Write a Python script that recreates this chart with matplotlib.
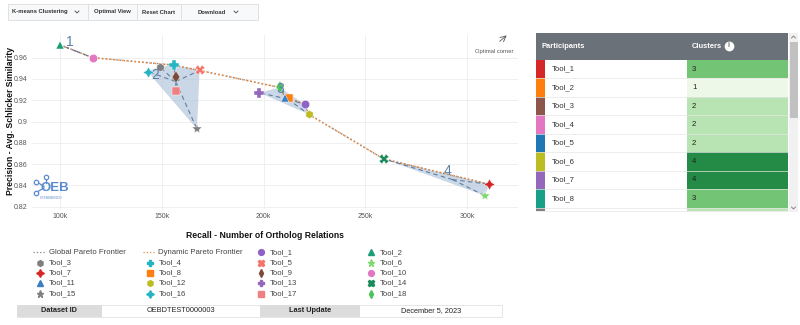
import matplotlib
matplotlib.use('Agg')
import matplotlib.pyplot as plt
from matplotlib.patches import Rectangle, Polygon
from matplotlib.lines import Line2D
from matplotlib.ticker import FuncFormatter
import numpy as np

plt.rcParams['font.family'] = ['Liberation Sans', 'DejaVu Sans']

# ---------------- data ----------------
tools = [f"Tool_{i}" for i in range(1, 19)]
recall = [220400, 100000, 149000, 156000, 168600, 308700, 311000, 212400, 157000,
          116000, 210800, 222200, 198000, 259000, 167300, 143000, 157000, 208000]
precision = [0.916, 0.972, 0.9515, 0.953, 0.948, 0.8304, 0.841, 0.922, 0.9416,
             0.960, 0.9225, 0.9069, 0.927, 0.8649, 0.893, 0.947, 0.929, 0.932]
cluster = [3, 1, 2, 2, 2, 4, 4, 3, 2, 1, 3, 3, 3, 4, 2, 2, 2, 3]

x_ticks = [100000, 150000, 200000, 250000, 300000]
y_ticks = [0.82, 0.84, 0.86, 0.88, 0.90, 0.92, 0.94, 0.96]
y_tick_labels = ["0.82", "0.84", "0.86", "0.88", "0.9", "0.92", "0.94", "0.96"]

table_rows = tools[:9]
dataset_id = "OEBDTEST0000003"
last_update = "December 5, 2023"

# ---------------- styles ----------------
colors = ['#8f63c6', '#1c9e78', '#7f7f7f', '#25b4c4', '#f4736b', '#7fd96c',
          '#d62728', '#ff7f0e', '#7b4a3a', '#e377c2', '#3b7fc4', '#bcbd22',
          '#9467bd', '#1b8a5a', '#7f7f7f', '#25b4c4', '#f08080', '#4bc25a']
star4 = (4, 1, 0)
markers = ['o', '^', 'h', 'P', 'X', '*', star4, 's', 'd', 'o', '^', 'h',
           'P', 'X', '*', star4, 's', 'd']
msizes = [6, 5.5, 6, 7, 6.5, 7.5, 8, 5.5, 6, 6, 5.5, 6, 7, 6.5, 7.5, 8, 5.5, 6]
table_colors = ['#d62728', '#ff7f0e', '#8c564b', '#e377c2', '#1f77b4', '#bcbd22',
                '#9467bd', '#17a085', '#7f7f7f']
cluster_cell = {1: '#edf8e9', 2: '#b8e3b2', 3: '#74c476', 4: '#238b45'}
label_offsets = {1: (-4.5, 6.5), 2: (-15, 4.8), 3: (-5.5, 7.0), 4: (-3.7, 6.3)}

W, H = 800, 325
fig = plt.figure(figsize=(W / 100, H / 100), dpi=100)


def fpx(x, y):
    return (x / W, 1 - y / H)


def rect(x0, y0, x1, y1, **kw):
    fig.add_artist(Rectangle(fpx(x0, y1), (x1 - x0) / W, (y1 - y0) / H,
                             transform=fig.transFigure, **kw))


def ftext(x, y, s, **kw):
    fig.text(x / W, 1 - y / H, s, **kw)


def fline(xs, ys, **kw):
    fig.add_artist(Line2D([x / W for x in xs], [1 - y / H for y in ys],
                          transform=fig.transFigure, **kw))


def fdot(x, y, **kw):
    fig.add_artist(Line2D([x / W], [1 - y / H], ls='none',
                          transform=fig.transFigure, **kw))


# ---------------- main axes ----------------
ax_l, ax_r, ax_t, ax_b = 32, 518, 35, 209
ax = fig.add_axes([ax_l / W, 1 - ax_b / H, (ax_r - ax_l) / W, (ax_b - ax_t) / H])
ax.set_xlim(86240, 325060)
ax.set_ylim(0.8178, 0.9813)
for s in ax.spines.values():
    s.set_visible(False)
ax.set_xticks(x_ticks)
ax.xaxis.set_major_formatter(FuncFormatter(lambda v, p: f"{v/1000:.0f}k"))
ax.set_yticks(y_ticks)
ax.set_yticklabels(y_tick_labels)
ax.tick_params(length=0, labelsize=5, labelcolor='#555555', pad=3)
ax.grid(True, color='#efefef', lw=0.7)
ax.set_axisbelow(True)

rx = np.array(recall, dtype=float)
py = np.array(precision)
cl = np.array(cluster)

# Pareto frontier (maximise both)
order = np.argsort(-rx)
best = -np.inf
front = []
for i in order:
    if py[i] > best:
        front.append(i)
        best = py[i]
front = sorted(front, key=lambda i: rx[i])
ax.plot(rx[front], py[front], ls=':', color='#8a8a8a', lw=1.0, zorder=2)
ax.plot(rx[front], py[front], ls=':', color='#f08a3c', lw=1.1, zorder=3)


def hull(pts):
    pts = sorted(map(tuple, pts))
    if len(pts) < 3:
        return pts

    def cross(o, a, b):
        return (a[0] - o[0]) * (b[1] - o[1]) - (a[1] - o[1]) * (b[0] - o[0])
    lower, upper = [], []
    for p in pts:
        while len(lower) >= 2 and cross(lower[-2], lower[-1], p) <= 0:
            lower.pop()
        lower.append(p)
    for p in reversed(pts):
        while len(upper) >= 2 and cross(upper[-2], upper[-1], p) <= 0:
            upper.pop()
        upper.append(p)
    return lower[:-1] + upper[:-1]


for c in sorted(set(cluster)):
    idx = np.where(cl == c)[0]
    pts = np.column_stack([rx[idx], py[idx]])
    h = hull(pts)
    if len(h) >= 3:
        ax.add_patch(Polygon(h, closed=True, facecolor='#a9bfd8', alpha=0.62,
                             edgecolor='none', zorder=1))
    cx, cy = rx[idx].mean(), py[idx].mean()
    for i in idx:
        ax.plot([cx, rx[i]], [cy, py[i]], ls=(0, (4, 3)), color='#4f6f96',
                lw=0.8, alpha=0.85, zorder=4)
    ax.annotate(str(c), (cx, cy), xytext=label_offsets[c], textcoords='offset points',
                ha='center', va='center', fontsize=10, color='#5b80aa', zorder=6)

for i in range(len(tools)):
    ax.plot(rx[i], py[i], marker=markers[i], color=colors[i], ms=msizes[i],
            mec='white', mew=0.3, ls='none', zorder=5)

# optimal corner
ax.annotate('', xy=(0.981, 1.008), xytext=(0.958, 0.953), xycoords='axes fraction',
            arrowprops=dict(arrowstyle='->', color='#555555', lw=0.6))
ax.text(0.952, 0.905, 'Optimal corner', transform=ax.transAxes, fontsize=4.2,
        color='#555555', ha='center', va='center')

# axis titles
ftext(265, 235, 'Recall - Number of Ortholog Relations', ha='center', va='center',
      fontsize=6.2, fontweight='bold', color='#111111')
ftext(11, 121, 'Precision - Avg. Schlicker Similarity', ha='center', va='center',
      rotation=90, fontsize=6.2, fontweight='bold', color='#111111')

# OEB logo
logo = '#5b8bd0'
fline([37, 44], [182, 186.5], color=logo, lw=0.9)
fline([37, 44], [192, 188], color=logo, lw=0.9)
fline([46, 46], [178, 183], color=logo, lw=0.9)
for (x, y) in [(36, 181.5), (46, 177.5), (36, 192.5)]:
    fdot(x, y, marker='o', ms=3.2, mfc='white', mec=logo, mew=0.9)
ftext(55, 188, 'OEB', ha='center', va='center', fontsize=9.5, fontweight='bold',
      color=logo)
ftext(51, 198, 'OPENEBENCH', ha='center', va='center', fontsize=2.3, color=logo)

# ---------------- top buttons ----------------
rect(8, 4, 258, 20, facecolor='#f8f9fa', edgecolor='#dcdcdc', lw=0.6)
for x in [88, 137, 181]:
    fline([x, x], [5, 19], color='#dcdcdc', lw=0.6)
bkw = dict(va='center', fontsize=4.2, fontweight='bold', color='#333333')
ftext(12, 12, 'K-means Clustering', ha='left', **bkw)
ftext(112, 12, 'Optimal View', ha='center', **bkw)
ftext(159, 12, 'Reset Chart', ha='center', **bkw)
ftext(212, 12, 'Download', ha='center', **bkw)
for x in [77, 236]:
    fline([x - 2, x, x + 2], [11, 13, 11], color='#444444', lw=0.6)

# ---------------- legend (manual, row-major) ----------------
entries = [('line', 'Global Pareto Frontier', '#8a8a8a'),
           ('line', 'Dynamic Pareto Frontier', '#f08a3c')]
entries += [('mk', tools[i], i) for i in range(len(tools))]
col_x = [40, 149.5, 261, 371]
row_y = [252.3, 262.6, 272.9, 283.2, 293.5]
for k, e in enumerate(entries):
    c, r = k % 4, k // 4
    x, y = col_x[c], row_y[r]
    if e[0] == 'line':
        fline([x - 7, x + 6], [y, y], ls=':', color=e[2], lw=0.9)
    else:
        i = e[2]
        fdot(x, y, marker=markers[i], color=colors[i], ms=msizes[i] * 0.7)
    ftext(x + 9, y, e[1], ha='left', va='center', fontsize=5.6, color='#444444')

# ---------------- bottom info bar ----------------
rect(17, 305, 502, 317, facecolor='white', edgecolor='#e2e2e2', lw=0.6)
rect(17, 305, 102, 317, facecolor='#dcdcdc', edgecolor='none')
rect(260, 305, 360, 317, facecolor='#dcdcdc', edgecolor='none')
ftext(59, 311, 'Dataset ID', ha='center', va='center', fontsize=5.3,
      fontweight='bold', color='#222222')
ftext(181, 311, dataset_id, ha='center', va='center', fontsize=5.3, color='#222222')
ftext(310, 311, 'Last Update', ha='center', va='center', fontsize=5.3,
      fontweight='bold', color='#222222')
ftext(431, 311, last_update, ha='center', va='center', fontsize=5.3, color='#222222')

# ---------------- table ----------------
t_l, t_r, t_top, t_hb, t_bot = 536, 788, 33, 60, 211
row_h = 18.45
rect(t_l, t_top, t_r, t_hb, facecolor='#6b7178', edgecolor='none')
ftext(541, 46.5, 'Participants', ha='left', va='center', fontsize=5.4,
      fontweight='bold', color='white')
ftext(692, 46.5, 'Clusters', ha='left', va='center', fontsize=5.4,
      fontweight='bold', color='white')
fdot(729, 45.5, marker='o', ms=6.0, mfc='white', mec='white')
ftext(729, 45.8, 'i', ha='center', va='center', fontsize=5, fontweight='bold',
      color='#6b7178')
for r, name in enumerate(table_rows):
    y0 = t_hb + r * row_h
    y1 = min(y0 + row_h, t_bot)
    if y0 >= t_bot:
        break
    ti = tools.index(name)
    rect(t_l, y0, 545, y1, facecolor=table_colors[r], edgecolor='none')
    rect(545, y0, 687, y1, facecolor='white', edgecolor='none')
    rect(687, y0, t_r, y1, facecolor=cluster_cell[cluster[ti]], edgecolor='none')
    fline([t_l, t_r], [y1, y1], color='#e6e6e6', lw=0.5)
    if y0 + row_h <= t_bot:
        ym = y0 + row_h / 2
        ftext(552, ym, name, ha='left', va='center', fontsize=5.6, color='#333333')
        ftext(692, ym, str(cluster[ti]), ha='left', va='center', fontsize=5.6,
              color='#222222')

# scrollbar
rect(789, 33, 798, 212, facecolor='#f1f1f1', edgecolor='none')
rect(789.5, 42, 797.5, 118, facecolor='#c1c1c1', edgecolor='none')
fline([791.5, 793.5, 795.5], [38, 36, 38], color='#777777', lw=0.6)
fline([791.5, 793.5, 795.5], [207, 209, 207], color='#777777', lw=0.6)

fig.savefig('out.png', dpi=100, facecolor='white')
